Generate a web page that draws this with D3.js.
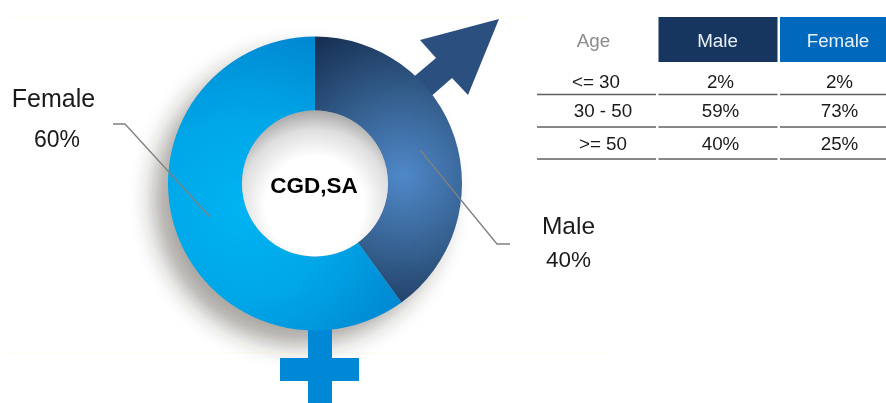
<!DOCTYPE html>
<html>
<head>
<meta charset="utf-8">
<script src="https://cdnjs.cloudflare.com/ajax/libs/d3/7.8.5/d3.min.js"></script>
<style>
html, body { margin: 0; padding: 0; background: #fff; }
svg { display: block; font-family: "Liberation Sans", Arial, sans-serif; filter: blur(0.4px); }
</style>
</head>
<body>
<svg id="chart" width="886" height="403"></svg>
<script>
// donut data
var genders = ["Male", "Female"];
var shares = [40, 60];
var centerLabel = "CGD,SA";

// table data
var ageHeader = "Age";
var ageGroups = ["<= 30", "30 - 50", ">= 50"];
var malePct = [2, 59, 40];
var femalePct = [2, 73, 25];

var svg = d3.select("#chart");
var cx = 315, cy = 183.5, outerR = 147, innerR = 73;

var defs = svg.append("defs");

var shadow = defs.append("filter").attr("id", "blur")
    .attr("x", "-30%").attr("y", "-30%").attr("width", "160%").attr("height", "160%");
shadow.append("feGaussianBlur").attr("stdDeviation", 11);

// gradient coordinates are local to the donut group, which sits on the centre
function radial(id, x, y, r, stops) {
    var g = defs.append("radialGradient").attr("id", id)
        .attr("gradientUnits", "userSpaceOnUse")
        .attr("cx", x).attr("cy", y).attr("r", r);
    stops.forEach(function(s) {
        g.append("stop").attr("offset", s[0]).attr("stop-color", s[1]);
    });
}
radial("grad-Male", 88, -8, 172, [[0, "#4f88c9"], [0.45, "#35608f"], [1, "#12284a"]]);
radial("grad-Female", -70, 25, 205, [[0, "#00b4f2"], [0.45, "#00a6e8"], [1, "#0080cc"]]);
radial("grad-hole", 0, 22, 95, [[0, "#ffffff"], [0.52, "#ffffff"], [0.8, "#dedede"], [1, "#a8a8a8"]]);

// pale rules behind the donut
svg.append("line").attr("x1", 7).attr("x2", 530).attr("y1", 17.5).attr("y2", 17.5)
    .attr("stroke", "#fffdf0");
svg.append("line").attr("x1", 7).attr("x2", 606).attr("y1", 352.5).attr("y2", 352.5)
    .attr("stroke", "#fffdf0");

// drop shadow
svg.append("circle").attr("cx", cx - 15).attr("cy", cy + 15).attr("r", outerR)
    .attr("fill", "#3a3028").attr("fill-opacity", 0.42).attr("filter", "url(#blur)");

// male arrow
svg.append("path")
    .attr("d", d3.line()([[499, 19], [420, 40], [436, 58], [410, 80], [428, 99], [452, 78], [468, 95]]) + "Z")
    .attr("fill", "#2b5080");

// female cross
svg.append("rect").attr("x", 308).attr("y", 323).attr("width", 24).attr("height", 80)
    .attr("fill", "#0088d6");
svg.append("rect").attr("x", 280).attr("y", 358).attr("width", 79).attr("height", 23)
    .attr("fill", "#0088d6");

// donut slices
var pie = d3.pie().sort(null);
var arc = d3.arc().innerRadius(innerR).outerRadius(outerR);
var donut = svg.append("g").attr("transform", "translate(" + cx + "," + cy + ")");
donut.selectAll("path")
    .data(pie(shares))
    .join("path")
    .attr("d", arc)
    .attr("fill", function(d, i) { return "url(#grad-" + genders[i] + ")"; });

// hole with inner shadow falling from the top
donut.append("circle").attr("r", innerR).attr("fill", "url(#grad-hole)");

svg.append("text").attr("x", cx - 1).attr("y", 193).attr("text-anchor", "middle")
    .attr("font-size", 22.5).attr("font-weight", "bold").attr("fill", "#000")
    .text(centerLabel);

// leader lines
var leaders = [
    [[113, 124], [125, 124], [210, 217]],
    [[420, 150], [497, 244], [510, 244]]
];
svg.selectAll("path.leader").data(leaders).join("path")
    .attr("class", "leader")
    .attr("d", d3.line())
    .attr("fill", "none").attr("stroke", "#808080").attr("stroke-width", 1.3);

// slice labels
function label(x, y, size, str) {
    svg.append("text").attr("x", x).attr("y", y).attr("text-anchor", "middle")
        .attr("font-size", size).attr("fill", "#1a1a1a").text(str);
}
label(53.5, 107, 25, genders[1]);
label(57, 147, 23, shares[1] + "%");
label(568.5, 234, 24.5, genders[0]);
label(568.5, 267, 22.5, shares[0] + "%");

// table
var colX = [537, 658.5, 780];
var colW = [119, 119, 106];
var headX = [593.5, 717.5, 838];
var cellX = [[596, 603, 603], [720.5, 720.5, 720.5], [839.5, 839.5, 839.5]];
var rowBase = [88, 117, 150];
var ruleY = [94.5, 127, 159];
var t = svg.append("g").attr("font-size", 18.8);

[null, "#16355f", "#0068bd"].forEach(function(c, i) {
    if (c) t.append("rect").attr("x", colX[i]).attr("y", 17).attr("width", colW[i]).attr("height", 45).attr("fill", c);
});
[ageHeader, genders[0], genders[1]].forEach(function(h, i) {
    t.append("text").attr("x", headX[i]).attr("y", 46.5)
        .attr("text-anchor", "middle").attr("fill", i == 0 ? "#8c8c8c" : "#e8f0f8").text(h);
});
[ageGroups, malePct.map(function(v) { return v + "%"; }), femalePct.map(function(v) { return v + "%"; })]
    .forEach(function(col, i) {
        t.selectAll("text.c" + i).data(col).join("text")
            .attr("class", "c" + i)
            .attr("x", function(d, j) { return cellX[i][j]; })
            .attr("y", function(d, j) { return rowBase[j]; })
            .attr("text-anchor", "middle").attr("fill", "#1a1a1a")
            .text(function(d) { return d; });
        ruleY.forEach(function(y) {
            t.append("line").attr("x1", colX[i]).attr("x2", colX[i] + colW[i]).attr("y1", y).attr("y2", y)
                .attr("stroke", "#5f5f5f").attr("stroke-width", 1.5);
        });
    });
</script>
</body>
</html>
